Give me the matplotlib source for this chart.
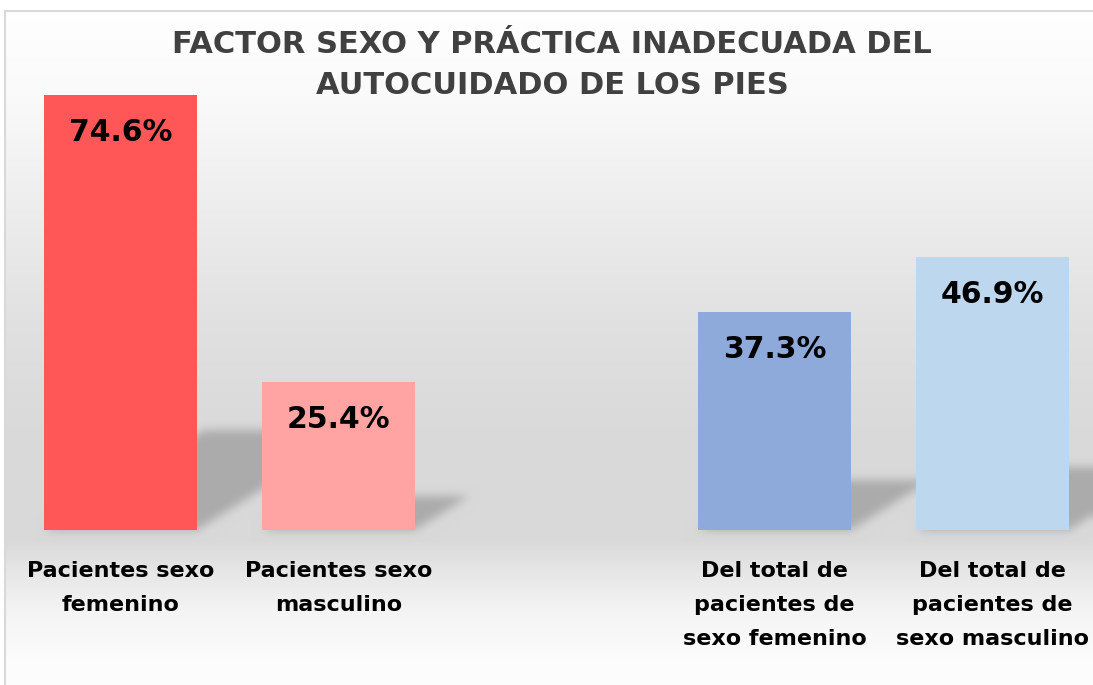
import numpy as np
import matplotlib.pyplot as plt

# data
labels = ["Pacientes sexo\nfemenino", "Pacientes sexo\nmasculino",
          "Del total de\npacientes de\nsexo femenino", "Del total de\npacientes de\nsexo masculino"]
values = [74.6, 25.4, 37.3, 46.9]
slots = [0, 1, 3, 4]          # slot 2 is left empty in the original
colors = ["#FF5757", "#FFA3A3", "#8EAADB", "#BDD7EE"]
title = "FACTOR SEXO Y PRÁCTICA INADECUADA DEL\nAUTOCUIDADO DE LOS PIES"

W, H = 1093, 685
plt.rcParams['font.family'] = ['DejaVu Sans']

fig = plt.figure(figsize=(W / 100, H / 100), dpi=100)
bg = fig.add_axes([0, 0, 1, 1], zorder=0)
ax = fig.add_axes([11.5 / W, 155 / H, (W - 11.5) / W, 466.5 / H], zorder=1)
ax.patch.set_alpha(0)

bars = ax.bar(slots, values, width=0.70, color=colors, zorder=3)
ax.set_xlim(-0.5, 4.461)
ax.set_ylim(0, 80)
ax.set_xticks(slots)
ax.set_xticklabels(labels, fontsize=16, fontweight='bold', linespacing=1.9)
ax.tick_params(axis='x', length=0, pad=22)
ax.set_yticks([])
for s in ax.spines.values():
    s.set_visible(False)

for b, v in zip(bars, values):
    ax.annotate(f"{v:.1f}%", (b.get_x() + b.get_width() / 2, v), xytext=(0, -27),
                textcoords='offset points', ha='center', va='center',
                fontsize=21.5, fontweight='bold', color='black', zorder=4)

# background gradient (grey band behind the bars)
rows = np.arange(H)
stops_y = [0, 95, 200, 330, 440, 540, 565, 610, 660, H]
stops_v = [255, 250, 238, 224, 217, 217, 228, 244, 252, 253]
gray = np.interp(rows, stops_y, stops_v)[:, None] * np.ones((1, W))
gray[:11, :] = 255
gray[:, :5] = 255

# perspective shadows behind the bars
yy, xx = np.mgrid[0:H, 0:W]
ydisp = H - yy - 0.5
xdisp = xx + 0.5
alpha = np.zeros((H, W))
for b, v in zip(bars, values):
    (x0, y0), (x1, y1) = ax.transData.transform([(b.get_x(), 0), (b.get_x() + b.get_width(), v)])
    hs = 0.23 * (y1 - y0)
    k = 1.6
    rel = ydisp - y0
    m = (rel >= 0) & (rel <= hs) & (xdisp >= x0 + rel * k) & (xdisp <= x1 + rel * k)
    alpha += m * 0.21


def box(a, r, axis):
    c = np.cumsum(np.pad(a, [(r + 1, r) if i == axis else (0, 0) for i in range(2)], mode='edge'), axis=axis)
    n = a.shape[axis]
    hi = np.take(c, np.arange(2 * r + 1, 2 * r + 1 + n), axis=axis)
    lo = np.take(c, np.arange(0, n), axis=axis)
    return (hi - lo) / (2 * r + 1)


for _ in range(3):
    alpha = box(box(alpha, 4, 0), 4, 1)
alpha = np.clip(alpha, 0, 0.6)
img = gray * (1 - alpha)

bg.imshow(np.dstack([img] * 3) / 255, extent=[0, W, H, 0], aspect='auto', interpolation='nearest')
bg.plot([5, 5], [11, H], color='#d9d9d9', lw=1.5)
bg.plot([5, W], [11, 11], color='#d9d9d9', lw=1.5)
bg.set_xlim(0, W)
bg.set_ylim(H, 0)
bg.axis('off')

fig.text(552 / W, 1 - 65 / H, title, ha='center', va='center', fontsize=22,
         fontweight='bold', color='#404040', linespacing=1.5)

fig.savefig('out.png', dpi=100)
